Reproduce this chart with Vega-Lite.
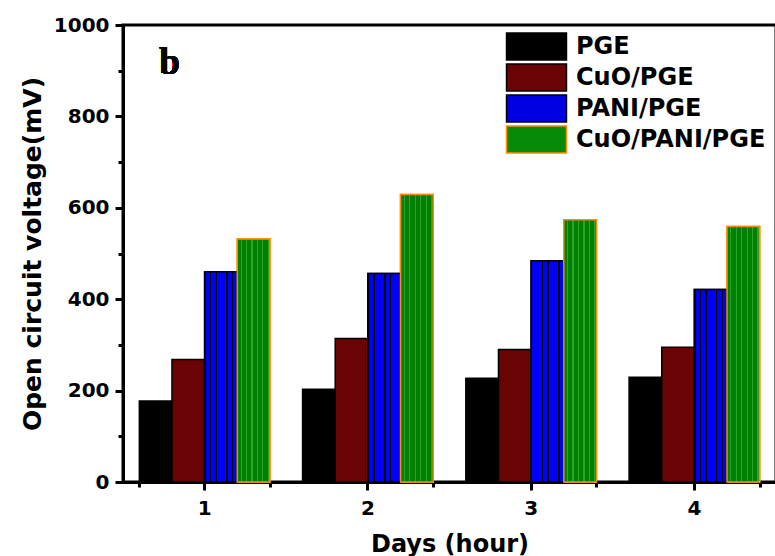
{
  "$schema": "https://vega.github.io/schema/vega-lite/v6.json",
  "autosize": {"type": "none"},
  "padding": {"left": 123, "top": 25, "right": 0, "bottom": 74},
  "width": 653,
  "height": 457,
  "background": "white",
  "config": {
    "view": {"stroke": "black", "strokeWidth": 3},
    "axis": {
      "labelFont": "DejaVu Sans",
      "labelFontWeight": "bold",
      "labelFontSize": 20,
      "labelColor": "black",
      "titleFont": "DejaVu Sans",
      "titleFontWeight": "bold",
      "titleColor": "black",
      "domainColor": "black",
      "domainWidth": 3,
      "tickColor": "black",
      "tickWidth": 3,
      "grid": false
    },
    "legend": {
      "labelFont": "DejaVu Sans",
      "labelFontWeight": "bold",
      "labelFontSize": 24,
      "labelColor": "black",
      "labelLimit": 400,
      "rowPadding": -7.5
    }
  },
  "data": {
    "values": [
      {"day": "1", "series": "PGE", "value": 177},
      {"day": "1", "series": "CuO/PGE", "value": 268},
      {"day": "1", "series": "PANI/PGE", "value": 460},
      {"day": "1", "series": "CuO/PANI/PGE", "value": 532},
      {"day": "2", "series": "PGE", "value": 203},
      {"day": "2", "series": "CuO/PGE", "value": 314},
      {"day": "2", "series": "PANI/PGE", "value": 456},
      {"day": "2", "series": "CuO/PANI/PGE", "value": 629},
      {"day": "3", "series": "PGE", "value": 227},
      {"day": "3", "series": "CuO/PGE", "value": 290},
      {"day": "3", "series": "PANI/PGE", "value": 484},
      {"day": "3", "series": "CuO/PANI/PGE", "value": 574},
      {"day": "4", "series": "PGE", "value": 229},
      {"day": "4", "series": "CuO/PGE", "value": 295},
      {"day": "4", "series": "PANI/PGE", "value": 421},
      {"day": "4", "series": "CuO/PANI/PGE", "value": 559}
    ]
  },
  "layer": [
    {
      "mark": {"type": "bar", "strokeWidth": 1.5},
      "encoding": {
        "x": {
          "field": "day",
          "type": "ordinal",
          "scale": {"paddingInner": 0.2, "paddingOuter": 0.1},
          "axis": {
            "orient": "bottom",
            "title": "Days (hour)",
            "titleFontSize": 24,
            "titlePadding": 14,
            "labelAngle": 0,
            "tickSize": 8,
            "labelPadding": 8
          }
        },
        "xOffset": {
          "field": "series",
          "type": "nominal",
          "scale": {"domain": ["PGE", "CuO/PGE", "PANI/PGE", "CuO/PANI/PGE"], "paddingInner": 0, "paddingOuter": 0}
        },
        "y": {
          "field": "value",
          "type": "quantitative",
          "scale": {"domain": [0, 1000], "nice": false},
          "axis": {
            "orient": "left",
            "title": "Open circuit voltage(mV)",
            "titleFontSize": 25,
            "titlePadding": 8,
            "format": "d",
            "values": [0, 200, 400, 600, 800, 1000],
            "tickSize": 8,
            "labelPadding": 6
          }
        },
        "color": {
          "field": "series",
          "type": "nominal",
          "scale": {
            "domain": ["PGE", "CuO/PGE", "PANI/PGE", "CuO/PANI/PGE"],
            "range": ["#000000", "#6a0303", "#0000e0", "#078a07"]
          },
          "legend": {
            "title": null,
            "orient": "none",
            "legendX": 399,
            "legendY": 7,
            "padding": 0,
            "symbolType": "M-2.22,-1H2.22V1H-2.22Z",
            "symbolSize": 729,
            "symbolStrokeWidth": 1.5,
            "symbolOpacity": 1,
            "labelOffset": 25,
            "rowPadding": -7.5
          }
        },
        "stroke": {
          "field": "series",
          "type": "nominal",
          "scale": {
            "domain": ["PGE", "CuO/PGE", "PANI/PGE", "CuO/PANI/PGE"],
            "range": ["#000000", "#000000", "#000000", "#ff8c00"]
          },
          "legend": {
            "title": null,
            "orient": "none",
            "legendX": 399,
            "legendY": 7,
            "padding": 0,
            "symbolType": "M-2.22,-1H2.22V1H-2.22Z",
            "symbolSize": 729,
            "symbolStrokeWidth": 1.5,
            "symbolOpacity": 1,
            "labelOffset": 25,
            "rowPadding": -7.5
          }
        }
      }
    },
    {
      "transform": [{"filter": "datum.series === 'PANI/PGE'"}],
      "mark": {
        "type": "bar",
        "stroke": "black",
        "strokeWidth": 1.5,
        "fill": {
          "gradient": "linear", "x1": 0, "y1": 0, "x2": 1, "y2": 0,
          "stops": [
            {"offset": 0, "color": "#000000"}, {"offset": 0.04, "color": "#000000"}, {"offset": 0.04, "color": "#0000ff"},
            {"offset": 0.1667, "color": "#0000ff"}, {"offset": 0.1667, "color": "#000000"}, {"offset": 0.2067, "color": "#000000"}, {"offset": 0.2067, "color": "#0000ff"},
            {"offset": 0.3333, "color": "#0000ff"}, {"offset": 0.3333, "color": "#000000"}, {"offset": 0.3733, "color": "#000000"}, {"offset": 0.3733, "color": "#0000ff"},
            {"offset": 0.5, "color": "#0000ff"}, {"offset": 0.5, "color": "#000000"}, {"offset": 0.54, "color": "#000000"}, {"offset": 0.54, "color": "#0000ff"},
            {"offset": 0.6667, "color": "#0000ff"}, {"offset": 0.6667, "color": "#000000"}, {"offset": 0.7067, "color": "#000000"}, {"offset": 0.7067, "color": "#0000ff"},
            {"offset": 0.8333, "color": "#0000ff"}, {"offset": 0.8333, "color": "#000000"}, {"offset": 0.8733, "color": "#000000"}, {"offset": 0.8733, "color": "#0000ff"},
            {"offset": 1, "color": "#0000ff"}
          ]
        }
      },
      "encoding": {
        "x": {"field": "day", "type": "ordinal", "axis": null},
        "xOffset": {"field": "series", "type": "nominal"},
        "y": {"field": "value", "type": "quantitative", "axis": null}
      }
    },
    {
      "transform": [{"filter": "datum.series === 'CuO/PANI/PGE'"}],
      "mark": {
        "type": "bar",
        "stroke": "#ff8c00",
        "strokeWidth": 1.5,
        "fill": {
          "gradient": "linear", "x1": 0, "y1": 0, "x2": 1, "y2": 0,
          "stops": [
            {"offset": 0, "color": "#008000"}, {"offset": 0.1, "color": "#008000"}, {"offset": 0.1, "color": "#2aa52a"}, {"offset": 0.135, "color": "#2aa52a"}, {"offset": 0.135, "color": "#008000"},
            {"offset": 0.2667, "color": "#008000"}, {"offset": 0.2667, "color": "#2aa52a"}, {"offset": 0.3017, "color": "#2aa52a"}, {"offset": 0.3017, "color": "#008000"},
            {"offset": 0.4333, "color": "#008000"}, {"offset": 0.4333, "color": "#2aa52a"}, {"offset": 0.4683, "color": "#2aa52a"}, {"offset": 0.4683, "color": "#008000"},
            {"offset": 0.6, "color": "#008000"}, {"offset": 0.6, "color": "#2aa52a"}, {"offset": 0.635, "color": "#2aa52a"}, {"offset": 0.635, "color": "#008000"},
            {"offset": 0.7667, "color": "#008000"}, {"offset": 0.7667, "color": "#2aa52a"}, {"offset": 0.8017, "color": "#2aa52a"}, {"offset": 0.8017, "color": "#008000"},
            {"offset": 0.9333, "color": "#008000"}, {"offset": 0.9333, "color": "#2aa52a"}, {"offset": 0.9683, "color": "#2aa52a"}, {"offset": 0.9683, "color": "#008000"},
            {"offset": 1, "color": "#008000"}
          ]
        }
      },
      "encoding": {
        "x": {"field": "day", "type": "ordinal", "axis": null},
        "xOffset": {"field": "series", "type": "nominal"},
        "y": {"field": "value", "type": "quantitative", "axis": null}
      }
    },
    {
      "mark": {"type": "bar", "opacity": 0},
      "encoding": {
        "x": {
          "field": "day",
          "type": "ordinal",
          "axis": {
            "orient": "bottom",
            "title": null,
            "labels": false,
            "domain": false,
            "tickBand": "extent",
            "tickSize": 5
          }
        },
        "y": {
          "field": "value",
          "type": "quantitative",
          "axis": {
            "orient": "left",
            "title": null,
            "labels": false,
            "domain": false,
            "values": [100, 300, 500, 700, 900],
            "tickSize": 5
          }
        }
      }
    },
    {
      "mark": {
        "type": "text",
        "text": "b",
        "font": "Liberation Serif",
        "fontWeight": "bold",
        "fontSize": 37,
        "fill": "black",
        "strokeWidth": 0,
        "align": "center",
        "baseline": "alphabetic",
        "dx": -35
      },
      "encoding": {
        "x": {"datum": "1", "type": "ordinal", "axis": null},
        "y": {"datum": 893, "type": "quantitative", "axis": null}
      }
    }
  ],
  "resolve": {"axis": {"x": "independent", "y": "independent"}}
}
